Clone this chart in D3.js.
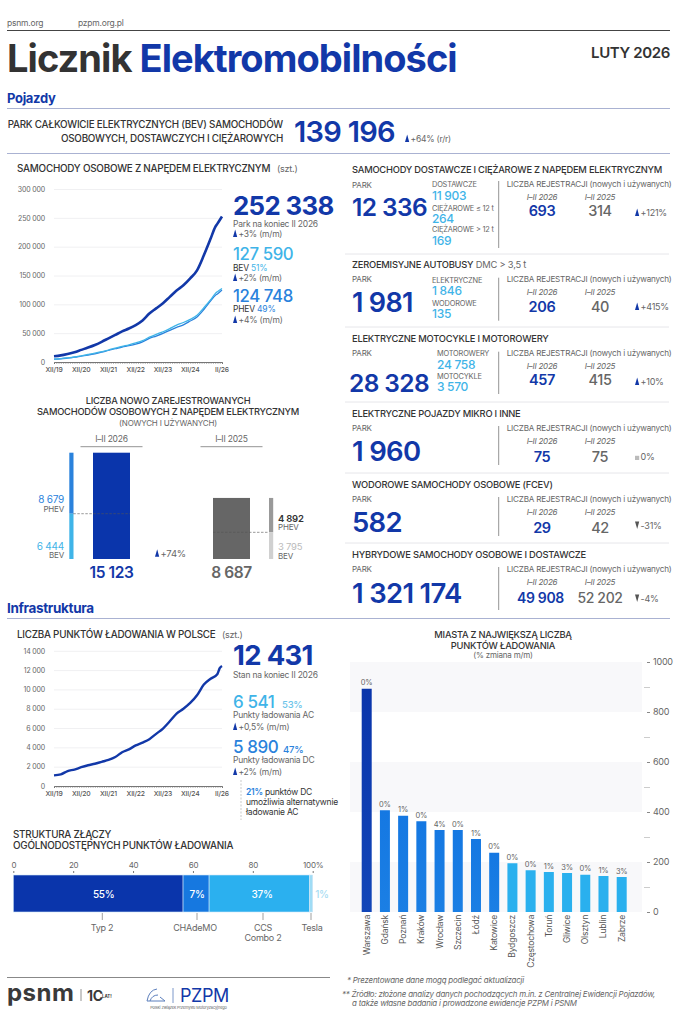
<!DOCTYPE html>
<html lang="pl">
<head>
<meta charset="utf-8">
<title>Licznik Elektromobilności</title>
<script src="https://cdn.jsdelivr.net/npm/d3@7"></script>
<style>
  html, body { margin: 0; padding: 0; background: #fff; }
  svg { display: block; }
  text { font-family: Inter, "Liberation Sans", sans-serif; letter-spacing: -0.025em; }
</style>
</head>
<body>
<svg id="chart" width="677" height="1024"></svg>
<script>
// ---- data ----
var carMonths = [0,3,6,9,12,15,18,21,24,27,30,33,36,39,42,45,48,51,54,57,60,63,66,69,71,72,74];
var carTotal = [10000,11500,14000,17000,21000,25000,29500,35000,41000,47000,53000,58000,64000,72000,84000,93000,102000,113000,124000,133000,145000,159000,185000,214000,234000,240000,252338];
var carBev = [5000,6000,7200,8700,10800,13000,15300,18000,20800,24000,27000,29800,33000,37000,43000,48000,52500,58000,64000,68500,74000,81000,94000,108000,118500,122000,127590];
var carPhev = [5000,5500,6800,8300,10200,12000,14200,17000,20200,23000,26000,28200,31000,35000,41000,45000,49500,55000,60000,64500,71000,78000,91000,106000,115500,118000,124748];
var timeTickMonths = [0,12,24,36,48,60,74];
var timeTickLabels = ["XII/19","XII/20","XII/21","XII/22","XII/23","XII/24","II/26"];

var regPeriods = ["I–II 2026","I–II 2025"];
var regPhev = [8679,4892];
var regBev = [6444,3795];
var regTotal = ["15 123","8 687"];

var fleetTitles = ["SAMOCHODY DOSTAWCZE I CIĘŻAROWE Z NAPĘDEM ELEKTRYCZNYM","ZEROEMISYJNE AUTOBUSY","ELEKTRYCZNE MOTOCYKLE I MOTOROWERY","ELEKTRYCZNE POJAZDY MIKRO I INNE","WODOROWE SAMOCHODY OSOBOWE (FCEV)","HYBRYDOWE SAMOCHODY OSOBOWE I DOSTAWCZE"];
var fleetPark = ["12 336","1 981","28 328","1 960","582","1 321 174"];
var fleetSubLabels = [["DOSTAWCZE","CIĘŻAROWE ≤ 12 t","CIĘŻAROWE > 12 t"],["ELEKTRYCZNE","WODOROWE"],["MOTOROWERY","MOTOCYKLE"],[],[],[]];
var fleetSubValues = [["11 903","264","169"],["1 846","135"],["24 758","3 570"],[],[],[]];
var fleetReg2026 = ["693","206","457","75","29","49 908"];
var fleetReg2025 = ["314","40","415","75","42","52 202"];
var fleetChange = ["+121%","+415%","+10%","0%","-31%","-4%"];
var fleetDirection = [1,1,1,0,-1,-1];

var pointMonths = [0,3,6,9,12,15,18,21,24,27,30,33,36,39,42,45,48,51,54,57,60,63,66,69,72,73,74];
var pointTotal = [1100,1200,1550,1700,1950,2150,2300,2500,2700,3000,3500,3800,4200,4500,4850,5400,5950,6700,7500,8000,8600,9400,10500,11100,11600,12200,12431];

var connectorNames = [["Typ 2"],["CHAdeMO"],["CCS","Combo 2"],["Tesla"]];
var connectorWidths = [56.7,8.7,33.5,1.1];
var connectorLabels = ["55%","7%","37%","1%"];

var cityNames = ["Warszawa","Gdańsk","Poznań","Kraków","Wrocław","Szczecin","Łódź","Katowice","Bydgoszcz","Częstochowa","Toruń","Gliwice","Olsztyn","Lublin","Zabrze"];
var cityPoints = [893,407,385,363,328,328,292,237,195,167,160,156,149,144,140];
var cityChange = ["0%","0%","1%","0%","4%","0%","1%","0%","0%","0%","1%","3%","0%","1%","3%"];

// ---- colours ----
var NAVY = "#1238a8", MID = "#2a82dc", SKY = "#3fb4e8", INK = "#333", GREY = "#666", RULE = "#aab2d2", SOFT = "#e6e6ea";

var svg = d3.select("#chart");

function label(x, y, str, size, opts) {
    opts = opts || {};
    return svg.append("text")
        .attr("x", x).attr("y", y)
        .attr("font-size", size)
        .attr("font-weight", opts.weight || 400)
        .attr("font-style", opts.italic ? "italic" : null)
        .attr("fill", opts.color || INK)
        .attr("text-anchor", opts.anchor || "start")
        .text(str);
}

function rule(x1, x2, y1, y2, color, width) {
    return svg.append("line")
        .attr("x1", x1).attr("x2", x2).attr("y1", y1).attr("y2", y2)
        .attr("stroke", color).attr("stroke-width", width || 1);
}

// little up / down arrow with its text
function change(x, y, str, dir, size) {
    if (dir > 0) {
        svg.append("path").attr("fill", NAVY)
            .attr("d", "M" + (x + 2.2) + " " + (y - 7.5) + "L" + (x + 4.2) + " " + y + "L" + x + " " + y + "Z");
    } else if (dir < 0) {
        svg.append("path").attr("fill", "#555")
            .attr("d", "M" + (x + 2.2) + " " + y + "L" + (x + 4.2) + " " + (y - 7.5) + "L" + x + " " + (y - 7.5) + "Z");
    } else {
        svg.append("rect").attr("x", x).attr("y", y - 4.5).attr("width", 4.2).attr("height", 4.2).attr("fill", "#bbb");
    }
    return label(x + 5.5, y, str, size || 8.5, {color: GREY});
}

// line chart frame shared by cars and charging points
function timeChart(top, bottom, maxValue, step, ticksFmt) {
    var x = d3.scaleLinear().domain([0, 74]).range([54, 222]);
    var y = d3.scaleLinear().domain([0, maxValue]).range([bottom, top]);

    var yAxis = svg.append("g").attr("transform", "translate(54,0)")
        .call(d3.axisLeft(y).tickValues(d3.range(0, maxValue + 1, step)).tickSize(-168).tickPadding(9).tickFormat(ticksFmt));
    yAxis.select(".domain").remove();
    yAxis.selectAll(".tick line").attr("stroke", "#f0f0f2");
    yAxis.selectAll("text").attr("font-size", 7).attr("fill", GREY).style("font-family", "Inter");

    var xAxis = svg.append("g").attr("transform", "translate(0," + bottom + ")")
        .call(d3.axisBottom(x).tickValues(d3.range(0, 75)).tickSize(2).tickFormat(""));
    xAxis.select(".domain").attr("stroke", "#777");
    xAxis.selectAll(".tick line").attr("stroke", "#777").attr("stroke-width", 0.5);
    timeTickMonths.forEach(function (m, i) {
        label(x(m), bottom + 9.5, timeTickLabels[i], 6.8, {anchor: "middle", color: "#555", weight: 500});
    });
    return {x: x, y: y};
}

function drawLine(scales, months, values, color, width) {
    var line = d3.line()
        .curve(d3.curveMonotoneX)
        .x(function (d) { return scales.x(d[0]); })
        .y(function (d) { return scales.y(d[1]); });
    svg.append("path")
        .datum(d3.zip(months, values))
        .attr("fill", "none").attr("stroke", color).attr("stroke-width", width)
        .attr("stroke-linejoin", "round")
        .attr("d", line);
}

var spaced = function (d) { return d3.format(",")(d).replace(/,/g, " "); };

// ---- header ----
label(7, 26, "psnm.org", 8.5, {color: GREY});
label(78, 26, "pzpm.org.pl", 8.5, {color: GREY});
rule(7, 670, 30.5, 30.5, "#444", 1);
var head = label(7, 72, "Licznik ", 38, {weight: 700});
head.append("tspan").attr("fill", NAVY).text("Elektromobilności");
label(670, 58, "LUTY 2026", 15, {weight: 600, anchor: "end"});

label(7, 103, "Pojazdy", 13, {weight: 700, color: NAVY});
rule(7, 670, 108.5, 108.5, RULE);
label(283, 128, "PARK CAŁKOWICIE ELEKTRYCZNYCH (BEV) SAMOCHODÓW", 9.85, {anchor: "end", weight: 500});
label(283, 142, "OSOBOWYCH, DOSTAWCZYCH I CIĘŻAROWYCH", 9.85, {anchor: "end", weight: 500});
label(294, 142, "139 196", 29, {weight: 600, color: NAVY});
change(405, 142, "+64% (r/r)", 1, 8.5);
rule(7, 670, 153.5, 153.5, RULE);

// ---- cars line chart ----
label(17, 172, "SAMOCHODY OSOBOWE Z NAPĘDEM ELEKTRYCZNYM", 9.9, {weight: 500});
label(277, 172, "(szt.)", 9, {color: GREY});
var carScales = timeChart(189, 362, 300000, 50000, spaced);
drawLine(carScales, carMonths, carPhev, MID, 1.3);
drawLine(carScales, carMonths, carBev, SKY, 1.3);
drawLine(carScales, carMonths, carTotal, NAVY, 2.6);

label(233, 215, "252 338", 25.8, {weight: 700, color: NAVY});
label(233, 226.7, "Park na koniec II 2026", 8.5, {color: GREY});
change(233, 237, "+3% (m/m)", 1);
label(233, 260, "127 590", 16.8, {weight: 500, color: SKY});
var bev = label(233, 270.7, "BEV ", 8.5, {color: INK});
bev.append("tspan").attr("fill", SKY).text("51%");
change(233, 281, "+2% (m/m)", 1);
label(233, 301.7, "124 748", 16.8, {weight: 500, color: MID});
var phev = label(233, 312, "PHEV ", 8.5, {color: INK});
phev.append("tspan").attr("fill", MID).text("49%");
change(233, 323, "+4% (m/m)", 1);

// ---- new registrations ----
label(168, 404, "LICZBA NOWO ZAREJESTROWANYCH", 9.3, {anchor: "middle", weight: 500});
label(168, 415, "SAMOCHODÓW OSOBOWYCH Z NAPĘDEM ELEKTRYCZNYM", 9.3, {anchor: "middle", weight: 500});
label(168, 425.7, "(NOWYCH I UŻYWANYCH)", 8, {anchor: "middle", color: GREY});

var regHeight = d3.scaleLinear().domain([0, 15123]).range([0, 106.3]);
var regBase = 559;
var regBarX = [93, 213], regThinX = [69.3, 269], regBarFill = ["#0a35ab", "#666"];
var regPhevFill = [MID, "#999"], regBevFill = [SKY, "#d0d0d0"];
regPeriods.forEach(function (p, i) {
    var cx = regBarX[i] + 18.5;
    label(cx, 442, p, 8.5, {anchor: "middle", color: GREY});
    rule(cx - 31, cx + 31, 446.7, 446.7, "#777", 0.8);
    var bevH = regHeight(regBev[i]), phevH = regHeight(regPhev[i]);
    svg.append("rect").attr("x", regBarX[i]).attr("y", regBase - bevH - phevH).attr("width", 37).attr("height", bevH + phevH).attr("fill", regBarFill[i]);
    svg.append("rect").attr("x", regThinX[i]).attr("y", regBase - bevH - phevH).attr("width", 4.2).attr("height", phevH).attr("fill", regPhevFill[i]);
    svg.append("rect").attr("x", regThinX[i]).attr("y", regBase - bevH).attr("width", 4.2).attr("height", bevH).attr("fill", regBevFill[i]);
    var x1 = i === 0 ? regThinX[i] + 4 : regBarX[i];
    var x2 = i === 0 ? regBarX[i] + 37 : regThinX[i];
    rule(x1, x2, regBase - bevH, regBase - bevH, "#555", 0.6).attr("stroke-dasharray", "2.5,1.5");
    label(cx, 577.7, regTotal[i], 15.5, {anchor: "middle", weight: 600, color: i === 0 ? NAVY : "#666"});
});
label(64, 503, spaced(regPhev[0]), 10, {anchor: "end", color: MID});
label(64, 511.7, "PHEV", 8, {anchor: "end", color: GREY});
label(64, 549.7, spaced(regBev[0]), 10, {anchor: "end", color: SKY});
label(64, 558.3, "BEV", 8, {anchor: "end", color: GREY});
label(278, 521.7, spaced(regPhev[1]), 9.5, {weight: 600});
label(278, 530, "PHEV", 8, {color: GREY});
label(278, 550, spaced(regBev[1]), 9.5, {color: "#bbb"});
label(278, 559, "BEV", 8, {color: GREY});
change(155, 556.7, "+74%", 1, 9.5);

// ---- fleet rows on the right ----
var rowTitleY = [173, 267.7, 341.7, 416.7, 487.7, 557.7];
var rowBigY = [216, 311.7, 392, 461, 532, 602.7];
var rowDivTop = [181, 277.7, 351.7, 426, 497, 567];
var rowDivBottom = [248, 320.7, 394, 465, 536, 610];
var rowSepY = [254, 327, 402, 473, 543];
var rowBigSize = [24.5, 27, 24.5, 27.5, 27.5, 27.5];
var rowBigX = [352, 352, 349, 352, 352, 352];
var rowSubX = [432, 432, 437];
var rowSubLabelY = [[187, 211, 232], [282.7, 305.7], [356, 379]];
var rowSubValueY = [[200, 223, 245], [295, 318], [369, 391]];
var rowChangeY = [216, 310, 385, 460.3, 529, 602];

fleetTitles.forEach(function (t, i) {
    var title = label(352, rowTitleY[i], t, 9.35, {weight: 500});
    if (i === 1) title.append("tspan").attr("font-weight", 400).attr("fill", GREY).text(" DMC > 3,5 t");
    var parkY = rowTitleY[i] + 14.5;
    label(352, parkY, "PARK", 8, {color: GREY});
    label(rowBigX[i], rowBigY[i], fleetPark[i], rowBigSize[i], {weight: 600, color: NAVY});
    fleetSubLabels[i].forEach(function (s, j) {
        label(rowSubX[i], rowSubLabelY[i][j], s, 7.4, {color: GREY});
        label(rowSubX[i], rowSubValueY[i][j], fleetSubValues[i][j], 12, {weight: 500, color: SKY});
    });
    rule(498.7, 498.7, rowDivTop[i], rowDivBottom[i], "#777", 0.8);
    label(506.7, parkY - 0.5, "LICZBA REJESTRACJI (nowych i używanych)", 8.15, {color: GREY});
    label(542, parkY + 12.5, "I–II 2026", 8, {anchor: "middle", italic: true, color: GREY});
    label(600, parkY + 12.5, "I–II 2025", 8, {anchor: "middle", italic: true, color: GREY});
    var valY = rowBigY[i] + (i === 0 ? 0 : 0.5);
    if (i === 2) valY = 385;
    var valSize = i === 5 ? 14 : 14.5;
    label(i === 5 ? 540.5 : 542, valY, fleetReg2026[i], valSize, {anchor: "middle", weight: 600, color: NAVY});
    label(600, valY, fleetReg2025[i], valSize, {anchor: "middle", weight: 500, color: "#666"});
    change(635, rowChangeY[i], fleetChange[i], fleetDirection[i], 9);
    if (i < rowSepY.length) rule(345, 669, rowSepY[i], rowSepY[i], SOFT);
});

// ---- infrastructure ----
label(7, 613, "Infrastruktura", 13.5, {weight: 700, color: NAVY});
rule(7, 670, 618.5, 618.5, RULE, 1.2);
label(17, 637.7, "LICZBA PUNKTÓW ŁADOWANIA W POLSCE", 9.85, {weight: 500});
label(222, 637.7, "(szt.)", 9, {color: GREY});

var ptScales = timeChart(650.8, 786, 14000, 2000, spaced);
drawLine(ptScales, pointMonths, pointTotal, NAVY, 2.4);

label(233, 665, "12 431", 27.5, {weight: 700, color: NAVY});
label(233, 677.7, "Stan na koniec II 2026", 8.5, {color: GREY});
label(233, 707.7, "6 541", 17, {weight: 500, color: SKY});
label(282, 707.7, "53%", 9.5, {weight: 500, color: "#6cc4ea"});
label(233, 718, "Punkty ładowania AC", 8.5, {color: GREY});
change(233, 730, "+0,5% (m/m)", 1);
label(233, 753, "5 890", 17, {weight: 500, color: MID});
label(283, 753, "47%", 9.5, {weight: 500, color: MID});
label(233, 763, "Punkty ładowania DC", 8.5, {color: GREY});
change(233, 775, "+2% (m/m)", 1);
rule(241, 241, 780, 820, "#bbb", 0.8).attr("stroke-dasharray", "2,1.5");
var dc = label(246, 795, "21%", 8.5, {weight: 600, color: MID});
dc.append("tspan").attr("fill", INK).attr("font-weight", 400).text(" punktów DC");
label(246, 805, "umożliwia alternatywnie", 8.5);
label(246, 815, "ładowanie AC", 8.5);

// ---- connector share ----
label(13, 837.7, "STRUKTURA ZŁĄCZY", 9.85, {weight: 500});
label(13, 849.3, "OGÓLNODOSTĘPNYCH PUNKTÓW ŁADOWANIA", 9.85, {weight: 500});
var share = d3.scaleLinear().domain([0, 100]).range([13.3, 312.7]);
var shareAxis = svg.append("g").attr("transform", "translate(0,873)")
    .call(d3.axisTop(share).tickValues([0, 20, 40, 60, 80, 100]).tickSize(2).tickPadding(3)
        .tickFormat(function (d) { return d === 100 ? "100%" : d; }));
shareAxis.select(".domain").remove();
shareAxis.selectAll(".tick line").attr("stroke", "#777");
shareAxis.selectAll("text").attr("font-size", 8).attr("fill", GREY);

var connectorFill = ["#0a35ab", "#1678e0", "#2bb0ef", "#9fdcf5"];
var connectorLeader = [102.3, 197, 263, 311];
var connectorTextX = [102, 195, 263, 312];
var connectorValueX = [103.7, 197, 262, 322];
var cum = 0;
connectorWidths.forEach(function (w, i) {
    svg.append("rect")
        .attr("x", share(cum)).attr("y", 875)
        .attr("width", share(cum + w) - share(cum)).attr("height", 37)
        .attr("fill", connectorFill[i]).attr("stroke", "#cfe6f7").attr("stroke-width", 0.6);
    label(connectorValueX[i], 897.7, connectorLabels[i], 10, {anchor: "middle", weight: 500, color: i === 3 ? "#a8dcf2" : "#fff"});
    rule(connectorLeader[i], connectorLeader[i], 913, 920, "#777", 0.7);
    connectorNames[i].forEach(function (n, j) {
        label(connectorTextX[i], 930.7 + j * 10, n, 9, {anchor: "middle", color: GREY});
    });
    cum += w;
});

// ---- footer logos ----
rule(7, 330, 977.5, 977.5, "#888", 1);
label(7, 1001, "psnm", 24, {weight: 700, color: "#3a3a3a"}).style("letter-spacing", "0.02em");
rule(81, 81, 989, 1001, "#777", 0.8);
label(87, 1001, "1C", 14, {weight: 700, color: "#3a3a3a"});
label(102, 998, "LAT!", 4.5, {weight: 700, color: "#3a3a3a"});
svg.append("path")
    .attr("fill", "none").attr("stroke", "#5b7ebc").attr("stroke-width", 1)
    .attr("d", "M147 1001 Q149 990 157 989 M150 1001 Q152 995 158 995 M147 1001 L165 1001 L160 997");
rule(173, 173, 988, 1003, "#5b7ebc", 0.8);
label(180, 1001.7, "PZPM", 18, {weight: 400, color: NAVY});
label(188.5, 1009, "Polski Związek Przemysłu Motoryzacyjnego", 3.9, {anchor: "middle", color: GREY});

// ---- cities ----
label(503, 638, "MIASTA Z NAJWIĘKSZĄ LICZBĄ", 9.3, {anchor: "middle", weight: 500});
label(503, 649, "PUNKTÓW ŁADOWANIA", 9.3, {anchor: "middle", weight: 500});
label(503, 658, "(% zmiana m/m)", 8, {anchor: "middle", color: GREY});

var cityY = d3.scaleLinear().domain([0, 1000]).range([912, 662]);
var cityX = d3.scalePoint().domain(cityNames).range([366.7, 621.7]);

[[800, 1000], [400, 600], [0, 200]].forEach(function (band) {
    svg.append("rect")
        .attr("x", 350).attr("width", 292)
        .attr("y", cityY(band[1])).attr("height", cityY(band[0]) - cityY(band[1]))
        .attr("fill", "#f8f8fa");
});

var defs = svg.append("defs");
function barGradient(id, a, b) {
    var g = defs.append("linearGradient").attr("id", id).attr("x1", 0).attr("x2", 0).attr("y1", 0).attr("y2", 1);
    g.append("stop").attr("offset", "0%").attr("stop-color", a);
    g.append("stop").attr("offset", "100%").attr("stop-color", b);
}
barGradient("barDark", "#0a35ab", "#1246b8");
barGradient("barMid", "#1578e2", "#1b7fe4");

svg.selectAll(".city-bar").data(cityNames).enter().append("rect")
    .attr("class", "city-bar")
    .attr("x", function (d) { return cityX(d) - 5; })
    .attr("width", 10)
    .attr("y", function (d, i) { return cityY(cityPoints[i]); })
    .attr("height", function (d, i) { return cityY(0) - cityY(cityPoints[i]); })
    .attr("fill", function (d, i) { return i === 0 ? "url(#barDark)" : i < 8 ? "url(#barMid)" : "#2ab0ee"; });

cityNames.forEach(function (c, i) {
    label(cityX(c), cityY(cityPoints[i]) - 3.5, cityChange[i], 7.5, {anchor: "middle", color: GREY});
    svg.append("text")
        .attr("transform", "translate(" + (cityX(c) + 3) + ",915) rotate(-90)")
        .attr("text-anchor", "end")
        .attr("font-size", 8.6)
        .attr("fill", "#555")
        .text(c);
});

var cityAxis = svg.append("g").attr("transform", "translate(650,0)")
    .call(d3.axisRight(cityY).tickValues(d3.range(0, 1001, 100)).tickSize(0).tickPadding(3)
        .tickFormat(function (d) { return d % 200 === 0 ? d : ""; }));
cityAxis.select(".domain").remove();
cityAxis.selectAll("text").attr("font-size", 9).attr("fill", GREY);
cityAxis.selectAll(".tick").each(function (d) {
    d3.select(this).select("line")
        .attr("x1", d % 200 === 0 ? -3 : -6).attr("x2", 0)
        .attr("stroke", d % 200 === 0 ? "#888" : "#ccc");
});

label(347, 982.7, "* Prezentowane dane mogą podlegać aktualizacji", 7.9, {italic: true, color: GREY});
label(342, 996.7, "** Źródło: złożone analizy danych pochodzących m.in. z Centralnej Ewidencji Pojazdów,", 7.9, {italic: true, color: GREY});
label(352, 1006, "a także własne badania i prowadzone ewidencje PZPM i PSNM", 7.9, {italic: true, color: GREY});
</script>
</body>
</html>
